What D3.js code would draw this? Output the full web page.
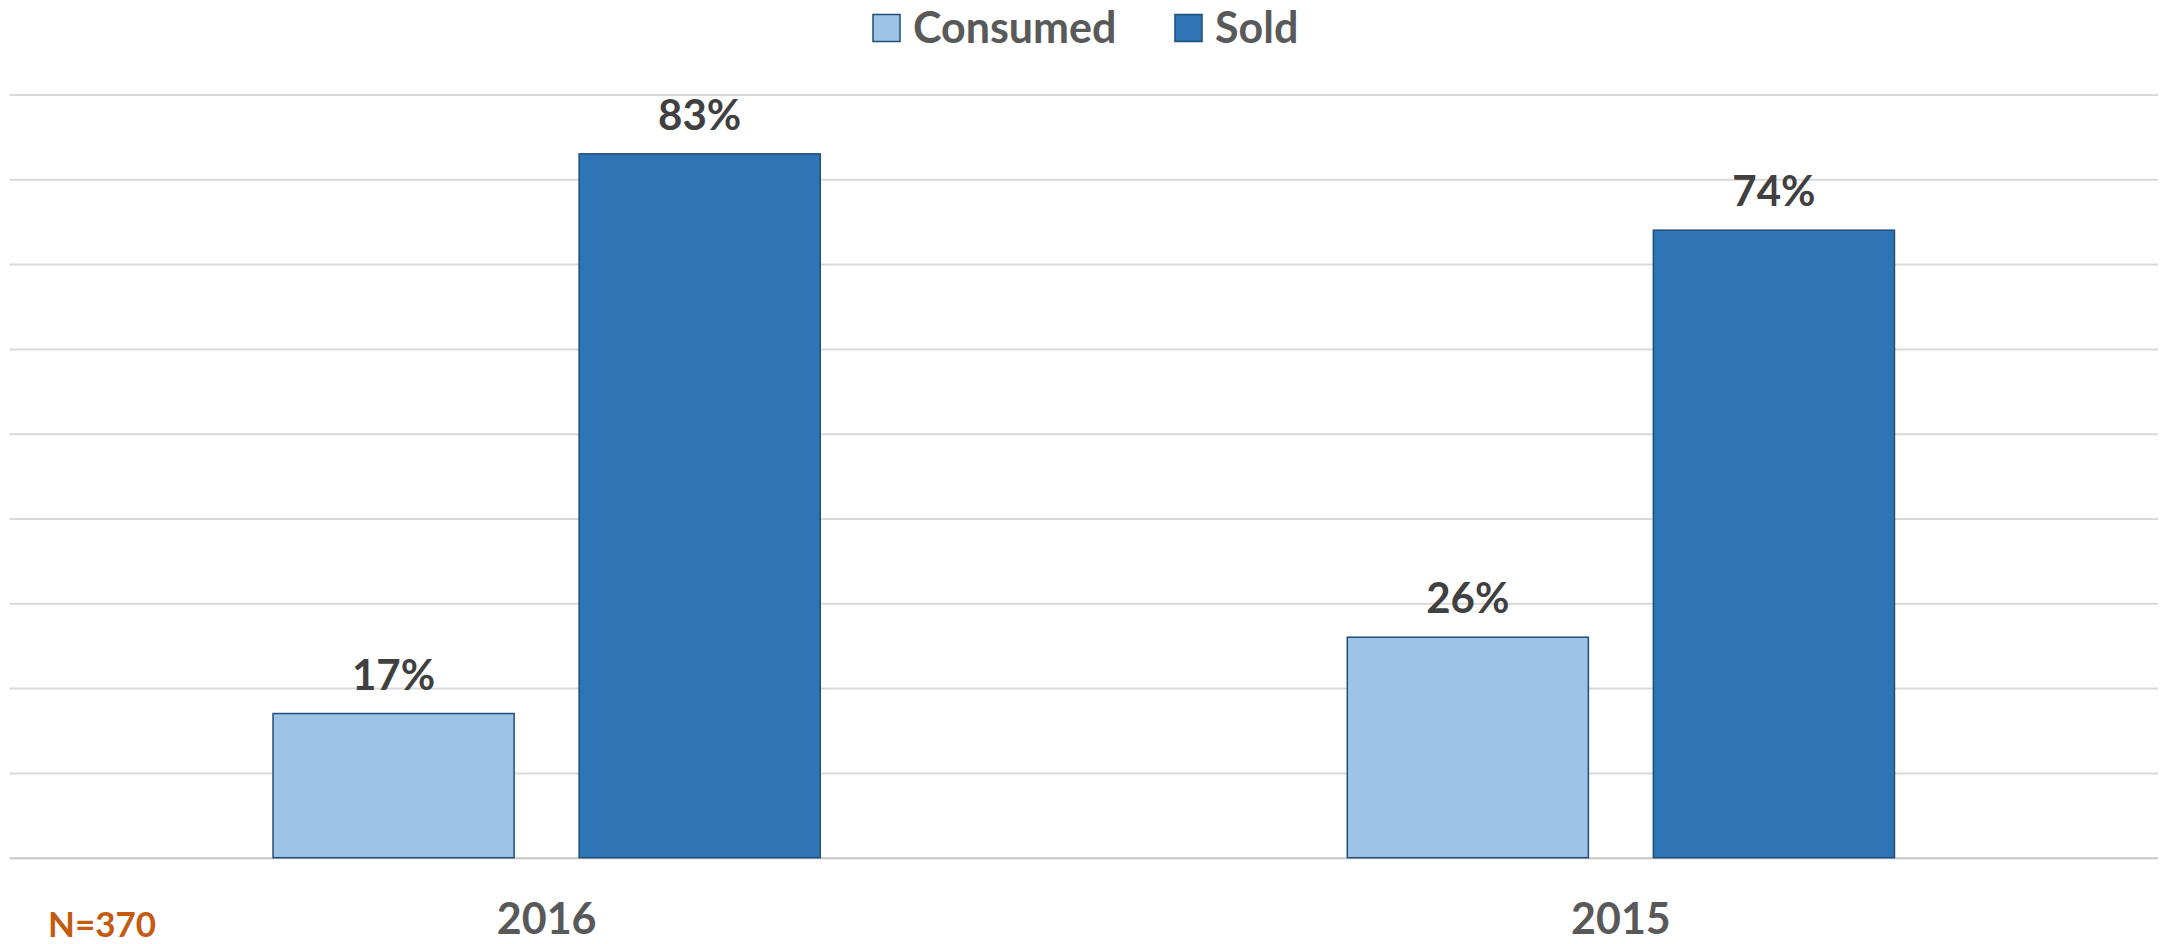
<!DOCTYPE html>
<html>
<head>
<meta charset="utf-8">
<script src="https://cdn.jsdelivr.net/npm/d3@7"></script>
<style>
  html, body { margin: 0; padding: 0; background: #ffffff; }
  svg { display: block; }
  text { font-family: Lato, "Open Sans", sans-serif; font-weight: 700; }
</style>
</head>
<body>
<svg id="chart" width="2165" height="944"></svg>
<script>
// Share of produce consumed vs. sold, by survey year
const categories = ["2016", "2015"];
const seriesNames = ["Consumed", "Sold"];
const consumed = [17, 26];
const sold = [83, 74];
const yTicks = [0, 10, 20, 30, 40, 50, 60, 70, 80, 90];
const sampleNote = "N=370";

const colors = { Consumed: "#9DC3E6", Sold: "#2E75B6" };
const barStroke = "#1F4E79";

const width = 2165, height = 944;
const plot = { left: 9.5, right: 2158, top: 94.5, bottom: 857.7 };

const svg = d3.select("#chart");

const y = d3.scaleLinear().domain([0, 90]).range([plot.bottom, plot.top]);
const x0 = d3.scaleBand().domain(categories).range([plot.left, plot.right]).padding(0);
const x1 = d3.scaleBand().domain(seriesNames)
  .range([0, x0.bandwidth()])
  .paddingInner(0.2124)
  .paddingOuter(0.861);

// Horizontal gridlines
const grid = svg.append("g")
  .attr("transform", `translate(${plot.left},0)`)
  .call(d3.axisLeft(y).tickValues(yTicks).tickSize(-(plot.right - plot.left)).tickFormat(""));
grid.select(".domain").remove();
grid.selectAll(".tick line")
  .attr("stroke", d => d === 0 ? "#C6C6C6" : "#D9D9D9")
  .attr("stroke-width", 2);

// Bars
const rows = categories.map((c, i) => ({ category: c, values: [
  { key: "Consumed", value: consumed[i] },
  { key: "Sold", value: sold[i] }
]}));

const groups = svg.append("g").selectAll("g")
  .data(rows).join("g")
  .attr("transform", d => `translate(${x0(d.category)},0)`);

groups.selectAll("rect")
  .data(d => d.values).join("rect")
  .attr("x", d => x1(d.key))
  .attr("y", d => y(d.value))
  .attr("width", x1.bandwidth())
  .attr("height", d => y(0) - y(d.value))
  .attr("fill", d => colors[d.key])
  .attr("stroke", barStroke)
  .attr("stroke-width", 1.5);

// Value labels
groups.selectAll("text.value")
  .data(d => d.values).join("text")
  .attr("class", "value")
  .attr("x", d => x1(d.key) + x1.bandwidth() / 2)
  .attr("y", d => y(d.value) - 24)
  .attr("text-anchor", "middle")
  .attr("font-size", 42)
  .attr("fill", "#404040")
  .text(d => d.value + "%");

// Category axis
const xAxis = svg.append("g")
  .attr("transform", `translate(0,${plot.bottom})`)
  .call(d3.axisBottom(x0).tickSize(0));
xAxis.select(".domain").remove();
xAxis.selectAll("text")
  .attr("y", 76)
  .attr("dy", 0)
  .attr("font-size", 43)
  .attr("font-family", "Lato, 'Open Sans', sans-serif")
  .attr("font-weight", 700)
  .attr("fill", "#595959");

// Sample size note
svg.append("text")
  .attr("x", 48)
  .attr("y", 937)
  .attr("font-size", 35)
  .attr("fill", "#C55A11")
  .text(sampleNote);

// Legend
const legendItems = [
  { key: "Consumed", x: 873 },
  { key: "Sold", x: 1175 }
];
const legend = svg.append("g");
const li = legend.selectAll("g").data(legendItems).join("g")
  .attr("transform", d => `translate(${d.x},0)`);
li.append("rect")
  .attr("x", 0).attr("y", 14.5)
  .attr("width", 27).attr("height", 27)
  .attr("fill", d => colors[d.key])
  .attr("stroke", barStroke)
  .attr("stroke-width", 1.5);
li.append("text")
  .attr("x", 40).attr("y", 42.5)
  .attr("font-size", 43)
  .attr("fill", "#595959")
  .text(d => d.key);
</script>
</body>
</html>
